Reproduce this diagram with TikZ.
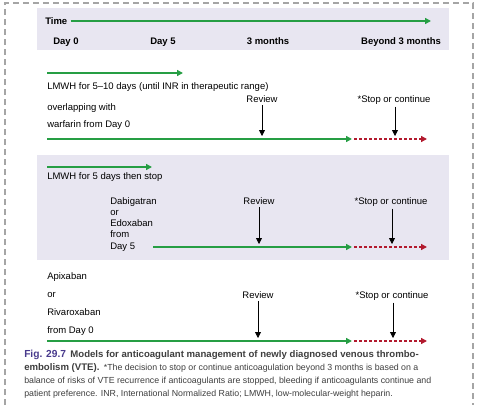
\documentclass[tikz,border=0pt]{standalone}
\usepackage{fontspec}
\setmainfont{Liberation Sans}
\usetikzlibrary{arrows.meta}
\definecolor{bandgray}{RGB}{232,230,241}
\definecolor{framegray}{RGB}{165,165,165}
\definecolor{drgreen}{RGB}{38,158,68}
\definecolor{drred}{RGB}{178,26,46}
\definecolor{figblue}{RGB}{72,58,140}
\definecolor{capgray}{RGB}{62,62,62}

\begin{document}
\begin{tikzpicture}[x=1pt, y=-1pt, line width=0.5pt,
		every node/.style={font=\fontsize{9.5}{11.25}\selectfont, inner sep=0pt},
		hdr/.style={font=\fontsize{9.5}{11.25}\selectfont\bfseries, anchor=base},
		mark label/.style={anchor=base},
		timeline/.style={draw=drgreen, line width=1.4pt, -{Triangle[length=6pt,width=6pt]}},
		later/.style={draw=drred, line width=1.4pt, dash pattern=on 3pt off 2pt,
			shorten <=2pt, -{Triangle[length=6pt,width=6pt]}},
		down/.style={black, line width=0.8pt, -{Triangle[length=6pt,width=6pt]}}]
		\useasboundingbox (0,0) rectangle (477,405);
		\draw[framegray, line width=1.2pt, dash pattern=on 6pt off 4pt]
			(5,405) -- (5,3) -- (473,3) -- (473,405);

		% time header
		\fill[bandgray] (37,8) rectangle (449,50);
		\node[hdr, anchor=west] (time) at (45,21) {Time};
		\coordinate (timeend) at (431,21);
		\draw[timeline, shorten <=3pt] (time.east) -- (timeend);
		\node[hdr] (day0) at (66,44) {Day 0};
		\node[hdr] (day5) at (163,44) {Day 5};
		\node[hdr] (mon3) at (268,44) {3 months};
		\node[hdr] (beyond) at (401,44) {Beyond 3 months};

		% warfarin
		\coordinate (lmwhA0) at (47,73);
		\coordinate (lmwhA1) at (183,73);
		\draw[timeline] (lmwhA0) -- (lmwhA1);
		\node[anchor=west] (lmwhA) at (47,87) {LMWH for 5--10 days (until INR in therapeutic range)};
		\node[anchor=north west, align=left, font=\fontsize{9.5}{17}\selectfont] (warf) at (47,103)
			{overlapping with\\warfarin from Day 0};
		\node[mark label] (revA) at (262,102.5) {Review};
		\node[mark label] (stopA) at (394,102.5) {*Stop or continue};
		\coordinate (a0) at (47,139);
		\coordinate (a1) at (352,139);
		\coordinate (a2) at (427,139);
		\coordinate (revAe) at (262,136);
		\coordinate (stopAe) at (395,136);
		\draw[down, shorten <=2pt] (revA.south) -- (revAe);
		\draw[down, shorten <=2pt] (stopA.south -| stopAe) -- (stopAe);
		\draw[timeline] (a0) -- (a1);
		\draw[later] (a1) -- (a2);

		% dabigatran / edoxaban
		\fill[bandgray] (37,155) rectangle (449,260);
		\coordinate (lmwhB0) at (47,167);
		\coordinate (lmwhB1) at (152,167);
		\draw[timeline] (lmwhB0) -- (lmwhB1);
		\node[anchor=west] (lmwhB) at (47,177) {LMWH for 5 days then stop};
		\node[anchor=north west, align=left] (dabi) at (110,197)
			{Dabigatran\\or\\Edoxaban\\from\\Day 5};
		\node[mark label] (revB) at (259,204.5) {Review};
		\node[mark label] (stopB) at (391,204.5) {*Stop or continue};
		\coordinate (b0) at (153,247);
		\coordinate (b1) at (352,247);
		\coordinate (b2) at (427,247);
		\coordinate (revBe) at (259,244);
		\coordinate (stopBe) at (392,244);
		\draw[down, shorten <=2pt] (revB.south) -- (revBe);
		\draw[down, shorten <=2pt] (stopB.south -| stopBe) -- (stopBe);
		\draw[timeline] (b0) -- (b1);
		\draw[later] (b1) -- (b2);

		% apixaban / rivaroxaban
		\node[anchor=north west, align=left, font=\fontsize{9.5}{18}\selectfont] (apix) at (47,272)
			{Apixaban\\or\\Rivaroxaban\\from Day 0};
		\node[mark label] (revC) at (258,298.5) {Review};
		\node[mark label] (stopC) at (392,298.5) {*Stop or continue};
		\coordinate (c0) at (47,341);
		\coordinate (c1) at (352,341);
		\coordinate (c2) at (427,341);
		\coordinate (revCe) at (258,338);
		\coordinate (stopCe) at (393,338);
		\draw[down, shorten <=2pt] (revC.south) -- (revCe);
		\draw[down, shorten <=2pt] (stopC.south -| stopCe) -- (stopCe);
		\draw[timeline] (c0) -- (c1);
		\draw[later] (c1) -- (c2);

		% caption
		\node[anchor=north west, align=left, text=capgray,
			font=\fontsize{8.8}{13}\selectfont] (cap) at (24,350)
			{{\bfseries\fontsize{10.2}{13}\selectfont\color{figblue}Fig. 29.7}\enspace
			{\bfseries\fontsize{9.6}{13}\selectfont Models for anticoagulant management of newly diagnosed venous thrombo-}\\
			{\bfseries\fontsize{9.6}{13}\selectfont embolism (VTE).}\enspace *The decision to stop or continue anticoagulation beyond 3 months is based on a\\
			balance of risks of VTE recurrence if anticoagulants are stopped, bleeding if anticoagulants continue and\\
			patient preference. INR, International Normalized Ratio; LMWH, low-molecular-weight heparin.};
	\end{tikzpicture}
\end{document}
